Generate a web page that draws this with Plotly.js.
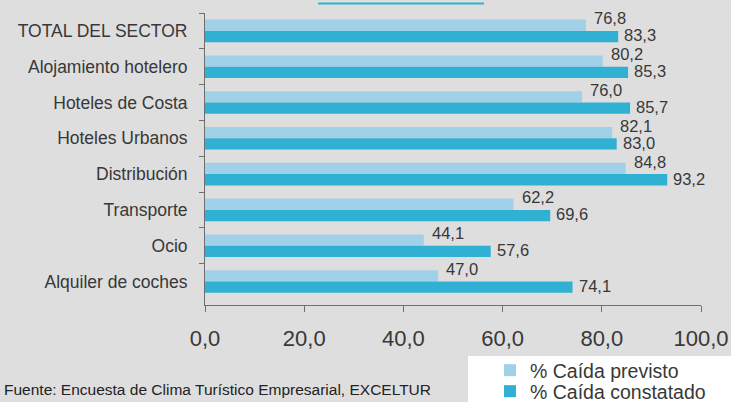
<!DOCTYPE html>
<html>
<head>
<meta charset="utf-8">
<script src="https://cdn.plot.ly/plotly-3.0.1.min.js"></script>
<style>
html,body{margin:0;padding:0;background:#dedede;}
#chart{width:731px;height:402px;}
</style>
</head>
<body>
<div id="chart"></div>
<script>
// Data
var categories = ["TOTAL DEL SECTOR","Alojamiento hotelero","Hoteles de Costa","Hoteles Urbanos","Distribución","Transporte","Ocio","Alquiler de coches"];
var previsto = [76.8, 80.2, 76.0, 82.1, 84.8, 62.2, 44.1, 47.0];
var constatado = [83.3, 85.3, 85.7, 83.0, 93.2, 69.6, 57.6, 74.1];
var seriesNames = ["% Caída previsto", "% Caída constatado"];
var xTicks = [0, 20, 40, 60, 80, 100];
var sourceText = "Fuente: Encuesta de Clima Turístico Empresarial, EXCELTUR";

var colLight = "#a0d1e8", colDark = "#30b1d3", textCol = "#383838";
var W = 731, H = 402;
var mL = 205, mR = 30, mT = 13, mB = 97;
var pw = W - mL - mR, ph = H - mT - mB;
function px(X){ return (X - mL) / pw; }
function py(Y){ return (H - mB - Y) / ph; }
function fmt(v){ return v.toFixed(1).replace('.', ','); }

var traces = [
  {type:'bar', orientation:'h', name:seriesNames[0], y:categories, x:previsto,
   marker:{color:colLight}, legend:'legend', hoverinfo:'none'},
  {type:'bar', orientation:'h', name:seriesNames[1], y:categories, x:constatado,
   marker:{color:colDark}, legend:'legend2', hoverinfo:'none'}
];

var lblFont = {family:'Liberation Sans, Arial, sans-serif', size:16.5, color:textCol};
var annotations = [];
categories.forEach(function(c, i){
  annotations.push({x:previsto[i], y:c, xref:'x', yref:'y', text:fmt(previsto[i]),
    showarrow:false, xanchor:'left', yanchor:'middle', xshift:6, yshift:12.5,
    font:lblFont});
  annotations.push({x:constatado[i], y:c, xref:'x', yref:'y', text:fmt(constatado[i]),
    showarrow:false, xanchor:'left', yanchor:'middle', xshift:4, yshift:-4.5,
    font:lblFont});
});
annotations.push({x:px(2), y:py(389), xref:'paper', yref:'paper', text:sourceText,
  showarrow:false, xanchor:'left', yanchor:'middle',
  font:{family:'Liberation Sans, Arial, sans-serif', size:15.5, color:'#222'}});

var layout = {
  width:W, height:H,
  margin:{l:mL, r:mR, t:mT, b:mB, pad:0, autoexpand:false},
  paper_bgcolor:'#dedede', plot_bgcolor:'#dedede',
  separators:',.',
  barmode:'group', bargap:0.37, bargroupgap:0,
  font:{family:'Liberation Sans, Arial, sans-serif', color:textCol},
  xaxis:{range:[0,100], tickvals:xTicks, tickformat:'.1f', showgrid:false, zeroline:false,
    showline:true, linecolor:'#6e6e6e', linewidth:1, ticks:'outside', ticklen:6, tickcolor:'#6e6e6e',
    ticklabelstandoff:8, tickfont:{size:22, color:textCol}, fixedrange:true, automargin:false},
  yaxis:{type:'category', autorange:'reversed', showgrid:false, zeroline:false,
    showline:true, linecolor:'#6e6e6e', linewidth:1, ticks:'outside', ticklen:5, tickcolor:'#6e6e6e',
    tickson:'boundaries', ticklabelstandoff:13, tickfont:{size:17.5, color:textCol}, fixedrange:true, automargin:false},
  showlegend:true,
  legend:{x:px(490), y:py(370.5), xanchor:'left', yanchor:'middle', bgcolor:'rgba(0,0,0,0)',
    borderwidth:0, font:{size:19.5, color:textCol}},
  legend2:{x:px(490), y:py(391.5), xanchor:'left', yanchor:'middle', bgcolor:'rgba(0,0,0,0)',
    borderwidth:0, font:{size:19.5, color:textCol}},
  shapes:[
    {type:'rect', xref:'paper', yref:'paper', x0:px(468), x1:px(740), y0:py(356), y1:py(410),
     fillcolor:'#ffffff', line:{width:0}, layer:'below'},
    {type:'line', xref:'paper', yref:'paper', x0:px(318), x1:px(484), y0:py(3.5), y1:py(3.5),
     line:{color:colDark, width:2}}
  ],
  annotations:annotations
};

Plotly.newPlot('chart', traces, layout, {displayModeBar:false, staticPlot:true});
</script>
</body>
</html>
